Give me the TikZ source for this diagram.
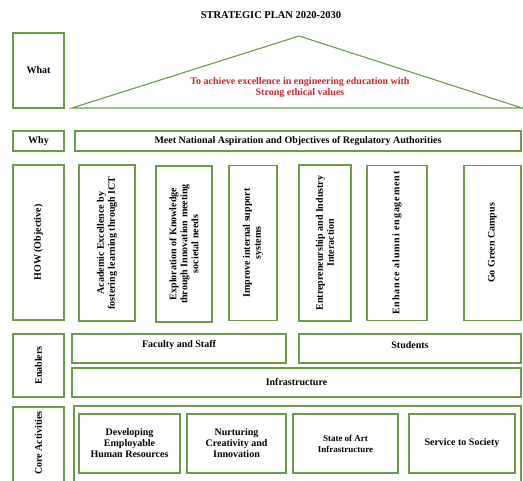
\documentclass[tikz,border=0pt]{standalone}
\usepackage{fontspec}
\setmainfont{Liberation Serif}
\usepackage{tikz}
\usetikzlibrary{positioning}
\definecolor{planGreen}{RGB}{108,154,70}
\definecolor{planRed}{RGB}{212,32,38}

\begin{document}
\begin{tikzpicture}[x=1pt,y=-1pt]
	 \tikzstyle{box}=[draw=planGreen,line width=1.1pt,rectangle,inner sep=0pt,align=center,font=\bfseries\fontsize{10}{11}\selectfont]
	 \tikzstyle{vbox}=[box,rotate=90]
	 \tikzstyle{txt}=[inner sep=0pt,align=center,font=\bfseries\fontsize{10}{11}\selectfont]
	 \useasboundingbox (0,0) rectangle (523,481);
	 \clip (0,0) rectangle (523,481);

	 \node[txt,font=\bfseries\fontsize{10.5}{12}\selectfont] (title) at (271,15) {STRATEGIC PLAN 2020-2030};

	 % what / why
	 \node[box,minimum width=51pt,minimum height=75pt] (what) at (38.5,70.5) {What};
	 \draw[draw=planGreen,line width=1.1pt] (72,108) -- (299,36) -- (522,108) -- cycle;
	 \node[txt,text=planRed] (goal) at (300,88) {To achieve excellence in engineering education with\\Strong ethical values};
	 \node[box,minimum width=51pt,minimum height=20pt] (why) at (38.5,141) {Why};
	 \node[box,minimum width=446pt,minimum height=20pt] (aim) at (298,141) {Meet National Aspiration and Objectives of Regulatory Authorities};

	 % how (objectives)
	 \node[vbox,minimum width=155pt,minimum height=51pt] (how) at (38.5,242.5) {HOW (Objective)};
	 \node[vbox,minimum width=156pt,minimum height=56pt] (obj1) at (107,243) {Academic Excellence by\\fostering learning through ICT};
	 \node[vbox,minimum width=156pt,minimum height=56pt] (obj2) at (184,244) {Exploration of Knowledge\\through Innovation meeting\\societal needs};
	 \node[vbox,minimum width=155pt,minimum height=48pt] (obj3) at (253,243) {Improve internal support\\systems};
	 \node[vbox,minimum width=156pt,minimum height=52pt] (obj4) at (325,243) {Entrepreneurship and Industry\\Interaction};
	 \node[vbox,minimum width=155pt,minimum height=60pt] (obj5) at (397,243) {\addfontfeature{LetterSpace=9}Enhance alumni engagement};
	 \node[vbox,minimum width=155pt,minimum height=57pt] (obj6) at (492.5,243) {Go Green Campus};

	 % enablers
	 \node[vbox,minimum width=63pt,minimum height=51pt] (enablers) at (38.5,365.5) {Enablers};
	 \node[box,minimum width=214pt,minimum height=29pt] (faculty) at (179,348.5) {};
	 \node[txt] (facultyLbl) at (179,345) {Faculty and Staff};
	 \node[box,minimum width=222pt,minimum height=29pt] (students) at (410,348.5) {};
	 \node[txt] (studentsLbl) at (410,345) {Students};
	 \node[box,minimum width=449pt,minimum height=29pt] (infra) at (296.5,382.5) {Infrastructure};

	 % core activities
	 \node[box,minimum width=51pt,minimum height=95pt] (core) at (38.5,454.5) {};
	 \node[txt,rotate=90] (coreLbl) at (38.5,443) {Core Activities};
	 \node[box,minimum width=447pt,minimum height=96pt] (coreMain) at (297.5,454) {};
	 \node[box,minimum width=101pt,minimum height=59pt] (act1) at (129.5,443.5) {Developing\\Employable\\Human Resources};
	 \node[box,minimum width=99pt,minimum height=59pt] (act2) at (236.5,443.5) {Nurturing\\Creativity and\\Innovation};
	 \node[box,minimum width=105pt,minimum height=59pt,font=\bfseries\fontsize{9}{11}\selectfont] (act3) at (345.5,443.5) {State of Art\\Infrastructure};
	 \node[box,minimum width=106pt,minimum height=59pt] (act4) at (462,443.5) {Service to Society};
\end{tikzpicture}
\end{document}
